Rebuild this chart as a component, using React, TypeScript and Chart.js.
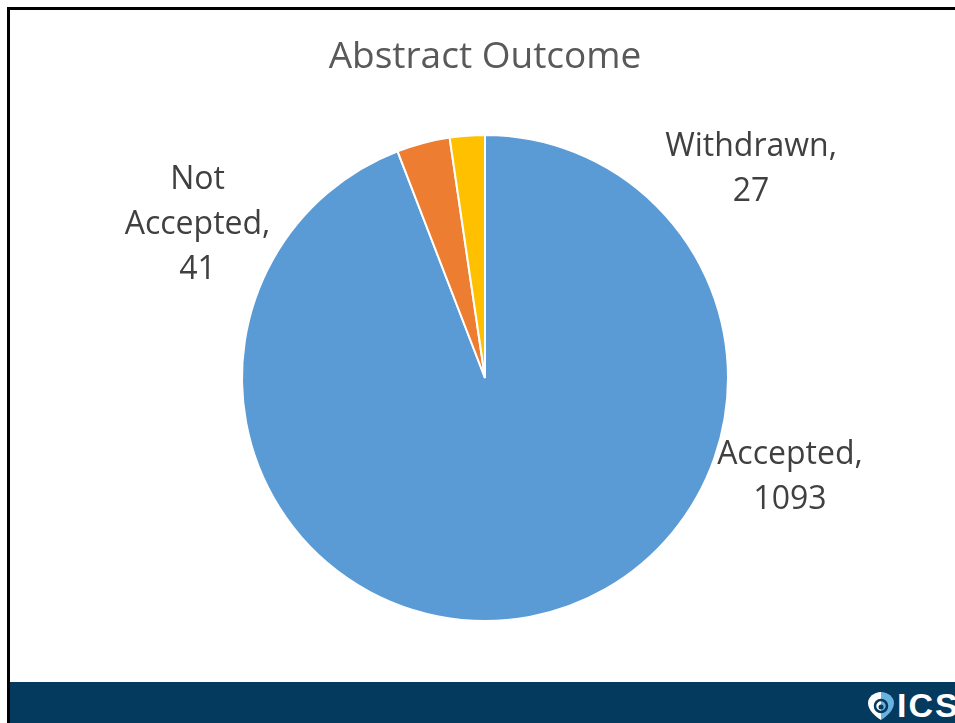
import React, { useEffect, useRef } from "react";
import { Chart, registerables } from "chart.js";

Chart.register(...registerables);

const categories = ["Accepted", "Not Accepted", "Withdrawn"];
const values = [1093, 41, 27];
const sliceColors = ["#5B9BD5", "#ED7D31", "#FFC000"];
const wrapCategory = [false, true, false];
// label anchor offsets in units of pie radius (first text baseline, centered)
const labelOffsets = [
  [1.255, 0.354],
  [-1.183, -0.778],
  [1.095, -0.913],
];
const titleText = "Abstract Outcome";

const FONT = "'Open Sans', Lato, sans-serif";

const labelPlugin = {
  id: "outsideLabels",
  afterDatasetsDraw(chart: any) {
    const ctx = chart.ctx;
    const meta = chart.getDatasetMeta(0);
    ctx.save();
    ctx.fillStyle = "#404040";
    ctx.font = `32px ${FONT}`;
    ctx.textAlign = "center";
    ctx.textBaseline = "alphabetic";
    meta.data.forEach((arc: any, i: number) => {
      const { x, y, outerRadius } = arc.getProps(["x", "y", "outerRadius"], true);
      const [ox, oy] = labelOffsets[i];
      const ax = x + ox * outerRadius;
      const ay = y + oy * outerRadius;
      const catLines = wrapCategory[i] ? categories[i].split(" ") : [categories[i]];
      catLines[catLines.length - 1] += ",";
      const lines = [...catLines, String(values[i])];
      lines.forEach((t, k) => ctx.fillText(t, ax, ay + k * 45));
    });
    ctx.restore();
  },
};

export default function App() {
  const ref = useRef<HTMLCanvasElement>(null);
  useEffect(() => {
    document.body.style.margin = "0";
    const chart = new Chart(ref.current!, {
      type: "pie",
      data: {
        labels: categories,
        datasets: [
          {
            data: values,
            backgroundColor: sliceColors,
            borderColor: "#FFFFFF",
            borderWidth: 2,
          },
        ],
      },
      options: {
        animation: false,
        responsive: false,
        layout: { padding: { left: 15, right: 0, top: 0, bottom: 60 } },
        plugins: {
          legend: { display: false },
          tooltip: { enabled: false },
          title: {
            display: true,
            text: titleText,
            color: "#595959",
            font: { family: FONT, size: 37, weight: "normal", lineHeight: 1.2 },
            padding: { top: 35, bottom: 54.6 },
          },
        },
      },
      plugins: [labelPlugin],
    });
    return () => chart.destroy();
  }, []);

  return (
    <div
      style={{
        position: "fixed",
        left: 0,
        top: 0,
        width: 955,
        height: 723,
        background: "#FFFFFF",
        overflow: "hidden",
      }}
    >
      <canvas
        ref={ref}
        width={955}
        height={682}
        style={{ position: "absolute", left: 0, top: 0, width: 955, height: 682 }}
      />
      <div style={{ position: "absolute", left: 7, top: 7, width: 948, height: 3, background: "#000" }} />
      <div style={{ position: "absolute", left: 7, top: 7, width: 3, height: 716, background: "#000" }} />
      <div
        style={{
          position: "absolute",
          left: 10,
          top: 682,
          width: 945,
          height: 41,
          background: "#033A5D",
        }}
      />
      <svg
        style={{ position: "absolute", left: 866, top: 690 }}
        width={30}
        height={32}
        viewBox="0 0 30 32"
      >
        <path d="M15 2 C8 2 2 7 2 13 C2 20 9 26 15 30 Z" fill="#FFFFFF" />
        <path d="M15 2 C22 2 28 7 28 13 C28 20 21 26 15 30 Z" fill="#6BB2E0" />
        <circle cx={15} cy={16} r={6} fill="none" stroke="#033A5D" strokeWidth={2.5} />
        <circle cx={15} cy={17} r={2.5} fill="#033A5D" />
      </svg>
      <div
        style={{
          position: "absolute",
          left: 897,
          top: 688,
          color: "#FFFFFF",
          fontFamily: "'Liberation Sans', Arial, sans-serif",
          fontWeight: "bold",
          fontSize: 34,
          lineHeight: "34px",
          letterSpacing: 2,
          whiteSpace: "nowrap",
        }}
      >
        ICS
      </div>
    </div>
  );
}
